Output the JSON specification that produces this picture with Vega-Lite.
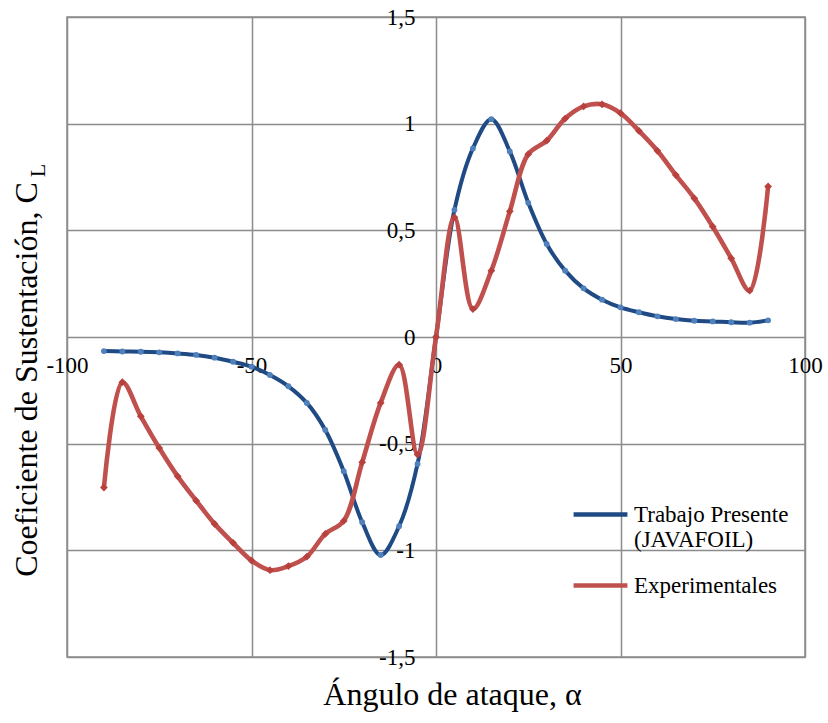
{
  "$schema": "https://vega.github.io/schema/vega-lite/v6.json",
  "width": 738,
  "height": 640,
  "autosize": {"type": "none"},
  "padding": {"left": 67, "top": 17, "right": 23, "bottom": 66},
  "background": "white",
  "config": {
    "view": {"stroke": "#8c8c8c", "strokeWidth": 1.5},
    "font": "Times New Roman, Liberation Serif, serif",
    "axis": {
      "labelFont": "Times New Roman, Liberation Serif, serif",
      "labelFontSize": 23,
      "labelColor": "#000000",
      "titleFont": "Times New Roman, Liberation Serif, serif",
      "titleFontSize": 32,
      "titleFontWeight": "normal",
      "titleColor": "#000000",
      "gridColor": "#8c8c8c",
      "gridWidth": 1.5,
      "gridOpacity": 1,
      "domain": false,
      "ticks": false,
      "labelFlush": false,
      "labelOverlap": false,
      "labelBound": false
    },
    "legend": {
      "labelFont": "Times New Roman, Liberation Serif, serif",
      "labelFontSize": 23,
      "labelColor": "#000000"
    }
  },
  "data": {
    "values": [
      {"serie": "Trabajo Presente (JAVAFOIL)", "angulo": -90, "cl": -0.066},
      {"serie": "Trabajo Presente (JAVAFOIL)", "angulo": -85, "cl": -0.068},
      {"serie": "Trabajo Presente (JAVAFOIL)", "angulo": -80, "cl": -0.069},
      {"serie": "Trabajo Presente (JAVAFOIL)", "angulo": -75, "cl": -0.072},
      {"serie": "Trabajo Presente (JAVAFOIL)", "angulo": -70, "cl": -0.077},
      {"serie": "Trabajo Presente (JAVAFOIL)", "angulo": -65, "cl": -0.084},
      {"serie": "Trabajo Presente (JAVAFOIL)", "angulo": -60, "cl": -0.097},
      {"serie": "Trabajo Presente (JAVAFOIL)", "angulo": -55, "cl": -0.116},
      {"serie": "Trabajo Presente (JAVAFOIL)", "angulo": -50, "cl": -0.139},
      {"serie": "Trabajo Presente (JAVAFOIL)", "angulo": -45, "cl": -0.178},
      {"serie": "Trabajo Presente (JAVAFOIL)", "angulo": -40, "cl": -0.231},
      {"serie": "Trabajo Presente (JAVAFOIL)", "angulo": -35, "cl": -0.309},
      {"serie": "Trabajo Presente (JAVAFOIL)", "angulo": -30, "cl": -0.436},
      {"serie": "Trabajo Presente (JAVAFOIL)", "angulo": -25, "cl": -0.629},
      {"serie": "Trabajo Presente (JAVAFOIL)", "angulo": -20, "cl": -0.868},
      {"serie": "Trabajo Presente (JAVAFOIL)", "angulo": -15, "cl": -1.022},
      {"serie": "Trabajo Presente (JAVAFOIL)", "angulo": -10, "cl": -0.887},
      {"serie": "Trabajo Presente (JAVAFOIL)", "angulo": -5, "cl": -0.595},
      {"serie": "Trabajo Presente (JAVAFOIL)", "angulo": 0, "cl": 0},
      {"serie": "Trabajo Presente (JAVAFOIL)", "angulo": 5, "cl": 0.596},
      {"serie": "Trabajo Presente (JAVAFOIL)", "angulo": 10, "cl": 0.884},
      {"serie": "Trabajo Presente (JAVAFOIL)", "angulo": 15, "cl": 1.021},
      {"serie": "Trabajo Presente (JAVAFOIL)", "angulo": 20, "cl": 0.87},
      {"serie": "Trabajo Presente (JAVAFOIL)", "angulo": 25, "cl": 0.629},
      {"serie": "Trabajo Presente (JAVAFOIL)", "angulo": 30, "cl": 0.436},
      {"serie": "Trabajo Presente (JAVAFOIL)", "angulo": 35, "cl": 0.311},
      {"serie": "Trabajo Presente (JAVAFOIL)", "angulo": 40, "cl": 0.228},
      {"serie": "Trabajo Presente (JAVAFOIL)", "angulo": 45, "cl": 0.175},
      {"serie": "Trabajo Presente (JAVAFOIL)", "angulo": 50, "cl": 0.139},
      {"serie": "Trabajo Presente (JAVAFOIL)", "angulo": 55, "cl": 0.116},
      {"serie": "Trabajo Presente (JAVAFOIL)", "angulo": 60, "cl": 0.097},
      {"serie": "Trabajo Presente (JAVAFOIL)", "angulo": 65, "cl": 0.084},
      {"serie": "Trabajo Presente (JAVAFOIL)", "angulo": 70, "cl": 0.076},
      {"serie": "Trabajo Presente (JAVAFOIL)", "angulo": 75, "cl": 0.073},
      {"serie": "Trabajo Presente (JAVAFOIL)", "angulo": 80, "cl": 0.069},
      {"serie": "Trabajo Presente (JAVAFOIL)", "angulo": 85, "cl": 0.067},
      {"serie": "Trabajo Presente (JAVAFOIL)", "angulo": 90, "cl": 0.078},
      {"serie": "Experimentales", "angulo": -90, "cl": -0.706},
      {"serie": "Experimentales", "angulo": -85, "cl": -0.212},
      {"serie": "Experimentales", "angulo": -80, "cl": -0.372},
      {"serie": "Experimentales", "angulo": -75, "cl": -0.52},
      {"serie": "Experimentales", "angulo": -70, "cl": -0.653},
      {"serie": "Experimentales", "angulo": -65, "cl": -0.767},
      {"serie": "Experimentales", "angulo": -60, "cl": -0.876},
      {"serie": "Experimentales", "angulo": -55, "cl": -0.965},
      {"serie": "Experimentales", "angulo": -50, "cl": -1.048},
      {"serie": "Experimentales", "angulo": -45, "cl": -1.093},
      {"serie": "Experimentales", "angulo": -40, "cl": -1.074},
      {"serie": "Experimentales", "angulo": -35, "cl": -1.03},
      {"serie": "Experimentales", "angulo": -30, "cl": -0.923},
      {"serie": "Experimentales", "angulo": -25, "cl": -0.862},
      {"serie": "Experimentales", "angulo": -20, "cl": -0.587},
      {"serie": "Experimentales", "angulo": -15, "cl": -0.309},
      {"serie": "Experimentales", "angulo": -10, "cl": -0.13},
      {"serie": "Experimentales", "angulo": -5, "cl": -0.551},
      {"serie": "Experimentales", "angulo": 0, "cl": 0},
      {"serie": "Experimentales", "angulo": 5, "cl": 0.561},
      {"serie": "Experimentales", "angulo": 10, "cl": 0.131},
      {"serie": "Experimentales", "angulo": 15, "cl": 0.311},
      {"serie": "Experimentales", "angulo": 20, "cl": 0.589},
      {"serie": "Experimentales", "angulo": 25, "cl": 0.857},
      {"serie": "Experimentales", "angulo": 30, "cl": 0.92},
      {"serie": "Experimentales", "angulo": 35, "cl": 1.024},
      {"serie": "Experimentales", "angulo": 40, "cl": 1.081},
      {"serie": "Experimentales", "angulo": 45, "cl": 1.091},
      {"serie": "Experimentales", "angulo": 50, "cl": 1.049},
      {"serie": "Experimentales", "angulo": 55, "cl": 0.966},
      {"serie": "Experimentales", "angulo": 60, "cl": 0.873},
      {"serie": "Experimentales", "angulo": 65, "cl": 0.759},
      {"serie": "Experimentales", "angulo": 70, "cl": 0.65},
      {"serie": "Experimentales", "angulo": 75, "cl": 0.517},
      {"serie": "Experimentales", "angulo": 80, "cl": 0.369},
      {"serie": "Experimentales", "angulo": 85, "cl": 0.217},
      {"serie": "Experimentales", "angulo": 90, "cl": 0.706}
    ]
  },
  "resolve": {"axis": {"y": "independent"}},
  "layer": [
    {
      "transform": [{"filter": "datum.serie === 'Trabajo Presente (JAVAFOIL)'"}],
      "mark": {"type": "line", "interpolate": "catmull-rom", "strokeWidth": 4},
      "encoding": {
        "x": {
          "field": "angulo",
          "type": "quantitative",
          "scale": {"domain": [-100, 100], "nice": false, "zero": false},
          "axis": {
            "orient": "bottom",
            "values": [-100, -50, 0, 50, 100],
            "offset": -320,
            "labelFont": "Times New Roman, Liberation Serif, serif",
            "labelFontSize": 23,
            "labelPadding": 17,
            "labelExpr": "datum.value < 0 ? '-' + abs(datum.value) : '' + datum.value",
            "title": "Ángulo de ataque, α",
            "titleX": 385,
            "titleY": 367,
            "titleAlign": "center",
            "titleBaseline": "alphabetic"
          }
        },
        "y": {
          "field": "cl",
          "type": "quantitative",
          "scale": {"domain": [-1.5, 1.5], "nice": false, "zero": false},
          "axis": {
            "orient": "left",
            "values": [-1.5, -1, -0.5, 0, 0.5, 1, 1.5],
            "offset": -369,
            "labelFont": "Times New Roman, Liberation Serif, serif",
            "labelFontSize": 23,
            "labelPadding": 21,
            "labelExpr": "(datum.value < 0 ? '-' : '') + replace('' + abs(datum.value), '.', ',')",
            "title": "Coeficiente de Sustentación, C",
            "titleAngle": -90,
            "titleX": -410,
            "titleY": 362,
            "titleAlign": "center",
            "titleBaseline": "middle"
          }
        },
        "color": {
          "field": "serie",
          "type": "nominal",
          "scale": {
            "domain": ["Trabajo Presente (JAVAFOIL)", "Experimentales"],
            "range": ["#1F4A84", "#C0504D"]
          },
          "legend": {
            "orient": "none",
            "legendX": 504,
            "legendY": 468,
            "title": null,
            "padding": 0,
            "symbolType": "stroke",
            "symbolSize": 2900,
            "symbolStrokeWidth": 4.5,
            "labelOffset": 4,
            "labelLimit": 400,
            "rowPadding": 4,
            "labelExpr": "datum.label === 'Trabajo Presente (JAVAFOIL)' ? ['Trabajo Presente', '(JAVAFOIL)'] : datum.label"
          }
        }
      }
    },
    {
      "transform": [{"filter": "datum.serie === 'Trabajo Presente (JAVAFOIL)'"}],
      "mark": {"type": "point", "filled": true, "opacity": 1, "size": 34, "color": "#4F81BD"},
      "encoding": {
        "x": {"field": "angulo", "type": "quantitative"},
        "y": {"field": "cl", "type": "quantitative", "axis": null}
      }
    },
    {
      "transform": [{"filter": "datum.serie === 'Experimentales'"}],
      "mark": {"type": "line", "interpolate": "catmull-rom", "strokeWidth": 4.6},
      "encoding": {
        "x": {"field": "angulo", "type": "quantitative"},
        "y": {
          "field": "cl",
          "type": "quantitative",
          "axis": {
            "orient": "left",
            "grid": false,
            "labels": false,
            "title": "L",
            "titleFontSize": 22,
            "titleAngle": -90,
            "titleX": -30,
            "titleY": 153,
            "titleAlign": "center",
            "titleBaseline": "middle"
          }
        },
        "color": {"field": "serie", "type": "nominal"}
      }
    },
    {
      "transform": [{"filter": "datum.serie === 'Experimentales'"}],
      "mark": {"type": "point", "filled": true, "opacity": 1, "size": 60, "shape": "diamond", "color": "#B8403D"},
      "encoding": {
        "x": {"field": "angulo", "type": "quantitative"},
        "y": {"field": "cl", "type": "quantitative", "axis": null}
      }
    }
  ]
}
